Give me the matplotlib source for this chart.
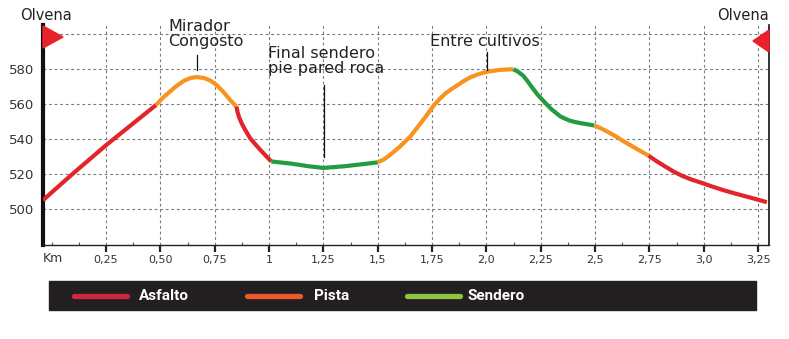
import matplotlib
matplotlib.use("Agg")
import matplotlib.pyplot as plt
from matplotlib.patches import Polygon, Rectangle
from matplotlib.lines import Line2D
from matplotlib.ticker import MultipleLocator

# ---------------- data ----------------
seg_types = ["Asfalto", "Pista", "Asfalto", "Sendero", "Pista", "Sendero", "Pista", "Asfalto"]
seg_km = [
    [-0.04, 0.0, 0.10, 0.25, 0.40, 0.48],
    [0.48, 0.51, 0.544, 0.575, 0.61, 0.64, 0.667, 0.70, 0.73, 0.76, 0.79, 0.82, 0.85],
    [0.85, 0.855, 0.862, 0.875, 0.89, 0.913, 0.935, 0.96, 0.985, 1.01],
    [1.01, 1.10, 1.18, 1.25, 1.35, 1.44, 1.50],
    [1.50, 1.53, 1.557, 1.60, 1.65, 1.70, 1.73, 1.756, 1.785, 1.81, 1.84, 1.864, 1.895,
     1.925, 1.96, 2.00, 2.06, 2.124],
    [2.124, 2.145, 2.17, 2.19, 2.216, 2.235, 2.255, 2.28, 2.30, 2.32, 2.34, 2.36, 2.385,
     2.41, 2.44, 2.47, 2.496],
    [2.496, 2.53, 2.56, 2.60, 2.63, 2.66, 2.69, 2.72, 2.746],
    [2.746, 2.78, 2.82, 2.86, 2.90, 2.94, 2.994, 3.04, 3.09, 3.14, 3.20, 3.25, 3.29],
]
seg_alt = [
    [505, 509.5, 520.5, 536.5, 551.5, 559.5],
    [559.5, 563.5, 567.2, 570.5, 573.5, 575.0, 575.5, 575.0, 573.5, 570.8, 567.0, 562.5, 558.6],
    [558.6, 555.5, 552.5, 548.8, 545.3, 540.5, 537.3, 533.8, 530.5, 527.2],
    [527.2, 526, 524.5, 523.5, 524.5, 525.8, 526.7],
    [526.7, 528.5, 531, 535.5, 541.5, 549.5, 554.5, 559, 563, 566, 568.7, 570.6, 573.2,
     575.3, 577.0, 578.5, 579.6, 580],
    [580, 578.6, 576.2, 573, 568.6, 565.5, 562.8, 559.5, 557, 555, 553, 551.8, 550.5,
     549.7, 549, 548.4, 547.8],
    [547.8, 546.0, 544.0, 541.2, 538.8, 536.7, 534.5, 532.4, 530.5],
    [530.5, 527.6, 524.5, 521.5, 519, 517, 514.8, 512.8, 510.8, 509, 507, 505.3, 503.9],
]
x_ticks = [0.25, 0.5, 0.75, 1.0, 1.25, 1.5, 1.75, 2.0, 2.25, 2.5, 2.75, 3.0, 3.25]
x_labels = ["0,25", "0,50", "0,75", "1", "1,25", "1,5", "1,75", "2,0", "2,25", "2,5", "2,75", "3,0", "3,25"]
y_ticks = [500, 520, 540, 560, 580, 600]
y_labels = ["500", "520", "540", "560", "580", ""]
notes = [("Mirador\nCongosto", 0.667, 588.2, 579.6),
         ("Final sendero\npie pared roca", 1.255, 571.0, 529.9),
         ("Entre cultivos", 2.003, 590.0, 579.6)]
legend_names = ["Asfalto", "Pista", "Sendero"]

line_colors = {"Asfalto": "#e3242b", "Pista": "#f7931e", "Sendero": "#239b3f"}
legend_colors = {"Asfalto": "#d0283a", "Pista": "#ec5a28", "Sendero": "#8cc540"}

W, H = 789, 339
fig = plt.figure(figsize=(W / 100, H / 100), dpi=100)
fig.patch.set_facecolor("white")

def fx(px):
    return px / W

def fy(py):
    return 1 - py / H

ax = fig.add_axes([fx(43), fy(245), fx(769) - fx(43), fy(25) - fy(245)])
ax.set_xlim(-0.04, 3.30)
ax.set_ylim(479.4, 605.3)

# grid
for yv in y_ticks:
    ax.axhline(yv, color="#7a7a7a", lw=0.8, ls=(0, (2.5, 2.5)), zorder=1)
for xv in x_ticks:
    ax.axvline(xv, color="#7a7a7a", lw=0.8, ls=(0, (2.5, 2.5)), zorder=1)

# profile
for t, xs, ys in zip(seg_types, seg_km, seg_alt):
    ax.plot(xs, ys, color=line_colors[t], lw=3.0, solid_capstyle="butt",
            solid_joinstyle="round", zorder=3)

# spines
ax.spines["top"].set_visible(False)
ax.spines["left"].set_linewidth(3.0)
ax.spines["left"].set_color("#111111")
ax.spines["right"].set_linewidth(1.2)
ax.spines["right"].set_color("#111111")
ax.spines["bottom"].set_linewidth(1.0)
ax.spines["bottom"].set_color("#222222")

ax.set_xticks(x_ticks)
ax.set_xticklabels(x_labels, fontsize=8, color="#333333")
ax.xaxis.set_minor_locator(MultipleLocator(0.125))
ax.tick_params(axis="x", which="major", direction="out", length=5, width=1.6,
               color="#222222", pad=2)
ax.tick_params(axis="x", which="minor", direction="in", length=2.5, width=0.8,
               color="#555555")
ax.set_yticks(y_ticks)
ax.set_yticklabels(y_labels, fontsize=9.5, color="#333333")
ax.tick_params(axis="y", length=0, pad=6)
ax.text(0.0, -0.03, "Km", transform=ax.transAxes, ha="left", va="top",
        fontsize=9, color="#333333")

# annotation leader lines
for txt, xk, y0, y1 in notes:
    ax.plot([xk, xk], [y0, y1], color="#111111", lw=0.9, zorder=4)

fig.text(fx(168), fy(34), notes[0][0], fontsize=11.5, color="#222222",
         ha="left", va="center", linespacing=1.05)
fig.text(fx(268), fy(61), notes[1][0], fontsize=11.5, color="#222222",
         ha="left", va="center", linespacing=1.05)
fig.text(fx(430), fy(42), notes[2][0], fontsize=11.5, color="#222222",
         ha="left", va="center")

# Olvena labels and flags
fig.text(fx(20), fy(15), "Olvena", fontsize=10.5, color="#222222", ha="left", va="center")
fig.text(fx(769), fy(15), "Olvena", fontsize=10.5, color="#222222", ha="right", va="center")
fig.patches.append(Polygon([[fx(43), fy(26)], [fx(63), fy(37)], [fx(43), fy(48)]],
                           closed=True, transform=fig.transFigure, color="#e8222a", zorder=5))
fig.patches.append(Polygon([[fx(769), fy(30)], [fx(753), fy(41)], [fx(769), fy(52)]],
                           closed=True, transform=fig.transFigure, color="#e8222a", zorder=5))

# legend bar
fig.patches.append(Rectangle((fx(49.5), fy(310)), fx(756) - fx(49.5), fy(281) - fy(310),
                             transform=fig.transFigure, color="#231f20", zorder=1))
leg_x = [(74, 127, 139), (247, 300, 314), (407, 460, 468)]
for name, (a, b, tx) in zip(legend_names, leg_x):
    fig.lines.append(Line2D([fx(a), fx(b)], [fy(295.5), fy(295.5)], transform=fig.transFigure,
                            color=legend_colors[name], lw=3.8, solid_capstyle="round", zorder=2))
    fig.text(fx(tx), fy(295.5), name, fontsize=11, fontweight="bold", color="white",
             ha="left", va="center", family=["Liberation Sans Narrow", "Roboto", "DejaVu Sans"],
             zorder=3)

fig.savefig("out.png", dpi=100)
